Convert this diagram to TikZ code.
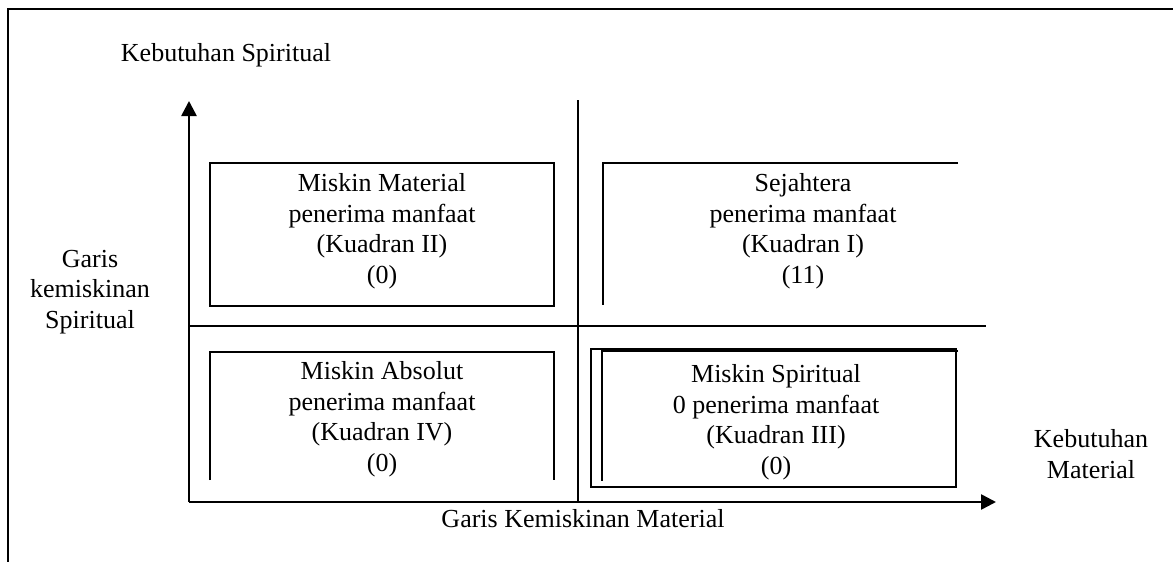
\documentclass[tikz,border=0pt]{standalone}
\usepackage{fontspec}
\setmainfont{Liberation Serif}
\usetikzlibrary{arrows.meta}
\begin{document}
\begin{tikzpicture}[x=1pt,y=-1pt,
  ln/.style={line width=2.5pt},
  thin/.style={line width=1.5pt},
  axis/.style={line width=2.6pt,-{Triangle[length=15pt,width=15pt]}},
  txt/.style={align=center,inner sep=0pt,font=\fontsize{26}{30.5}\selectfont}]
\useasboundingbox (0,0) rectangle (1173,562);
% outer frame (only top and left visible)
\coordinate (ftr) at (1173,9);
\coordinate (ftl) at (8,9);
\coordinate (fbl) at (8,562);
\draw[ln] (ftr) -- (ftl) -- (fbl);
% axes
\coordinate (o) at (189,502);
\coordinate (ytip) at (189,101);
\coordinate (xtip) at (996,502);
\draw[axis] (o) -- (ytip);
\draw[axis] (o) -- (xtip);
% dividers
\coordinate (vt) at (578,100);
\coordinate (vb) at (578,502);
\coordinate (hl) at (189,326);
\coordinate (hr) at (986,326);
\draw[ln] (vt) -- (vb);
\draw[ln] (hl) -- (hr);
% axis labels
\node[txt] (ks) at (226,55) {Kebutuhan Spiritual};
\node[txt] (gks) at (90,292) {Garis\\kemiskinan\\Spiritual};
\node[txt] (km) at (1091,454) {Kebutuhan\\Material};
\node[txt] (gkm) at (583,519) {Garis Kemiskinan Material};
% Quadrant II box
\draw[ln] (210,163) rectangle (554,306);
\node[txt] (q2) at (382,231) {Miskin Material\\penerima manfaat\\(Kuadran II)\\(0)};
% Quadrant I (open box)
\coordinate (q1a) at (958,163);
\coordinate (q1b) at (603,163);
\coordinate (q1c) at (603,305);
\draw[ln] (q1a) -- (q1b) -- (q1c);
\node[txt] (q1) at (803,231) {Sejahtera\\penerima manfaat\\(Kuadran I)\\(11)};
% Quadrant IV (open bottom)
\coordinate (q4a) at (210,480);
\coordinate (q4b) at (210,352);
\coordinate (q4c) at (554,352);
\coordinate (q4d) at (554,480);
\draw[ln] (q4a) -- (q4b) -- (q4c) -- (q4d);
\node[txt] (q4) at (382,419) {Miskin Absolut\\penerima manfaat\\(Kuadran IV)\\(0)};
% Quadrant III
\draw[thin] (591,349) rectangle (956,487);
\coordinate (q3a) at (958,351);
\coordinate (q3b) at (602,351);
\coordinate (q3c) at (602,481);
\draw[ln] (q3a) -- (q3b) -- (q3c);
\node[txt] (q3) at (776,422) {Miskin Spiritual\\0 penerima manfaat\\(Kuadran III)\\(0)};
\end{tikzpicture}
\end{document}
